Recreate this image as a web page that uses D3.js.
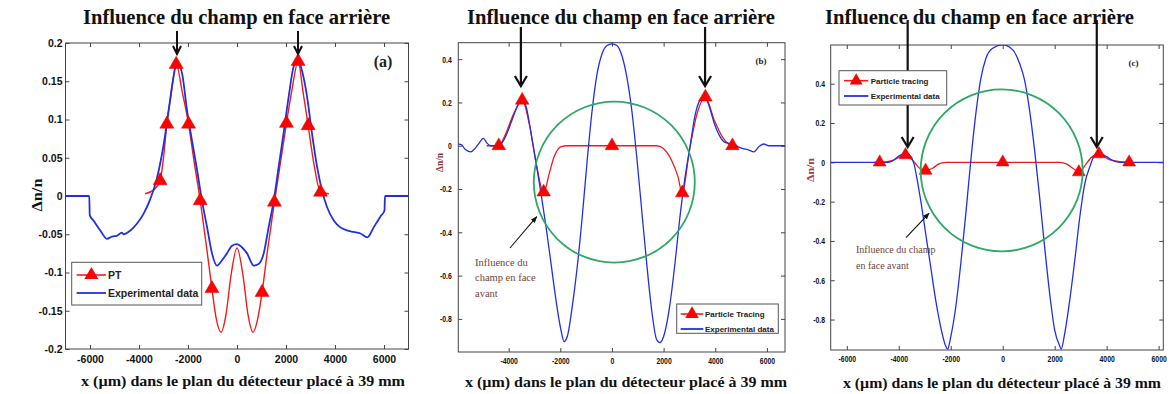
<!DOCTYPE html>
<html><head><meta charset="utf-8">
<script src="https://cdn.jsdelivr.net/npm/d3@7"></script>
<style>body{margin:0;background:#fff;} svg{display:block;}</style>
</head><body>
<svg id="chart" width="1173" height="394"></svg>
<script>
// ---------------- data ----------------
const titleText = "Influence du champ en face arrière";
const xLabelText = "x (µm) dans le plan du détecteur placé à 39 mm";
const yLabelText = "Δn/n";

// panel (a)
const aXTicks = [-6000,-4000,-2000,0,2000,4000,6000];
const aYTicks = [-0.2,-0.15,-0.1,-0.05,0,0.05,0.1,0.15,0.2];
const aLegend = ["PT","Experimental data"];
const aExpX = [-7000,-6030,-6010,-5860,-5580,-5310,-5100,-4900,-4700,-4630,-4350,-4080,-3810,-3540,-3270,-2990,-2790,-2590,-2450,-2240,-2040,-1840,-1630,-1430,-1220,-1020,-820,-610,-410,-200,0,200,410,680,880,1090,1290,1500,1700,1900,2110,2310,2490,2650,2860,3060,3270,3470,3670,3950,4220,4490,4760,5040,5320,5580,5850,6020,6040,7000];
const aExpY = [0,0,-0.025,-0.032,-0.045,-0.056,-0.053,-0.052,-0.048,-0.050,-0.045,-0.036,-0.023,-0.004,0.023,0.068,0.112,0.156,0.175,0.160,0.112,0.073,0.034,-0.006,-0.041,-0.075,-0.091,-0.084,-0.075,-0.065,-0.063,-0.067,-0.075,-0.091,-0.089,-0.075,-0.041,-0.006,0.038,0.082,0.130,0.169,0.178,0.164,0.130,0.082,0.038,0.007,-0.014,-0.032,-0.041,-0.045,-0.047,-0.049,-0.054,-0.041,-0.027,-0.019,0,0];
const aPtX = [-3750,-3400,-3137,-3000,-2864,-2680,-2482,-2230,-1977,-1750,-1500,-1250,-1023,-850,-650,-450,-250,0,250,450,650,850,1023,1250,1527,1780,2018,2250,2495,2700,2905,3150,3410,3750];
const aPtY = [0.003,0.008,0.020,0.050,0.094,0.135,0.172,0.135,0.094,0.045,-0.006,-0.065,-0.121,-0.160,-0.178,-0.155,-0.105,-0.068,-0.105,-0.155,-0.178,-0.160,-0.126,-0.070,-0.008,0.045,0.095,0.140,0.176,0.135,0.092,0.040,0.005,0.003];
const aMkX = [-3137,-2864,-2482,-1977,-1500,-1023,1023,1527,2018,2495,2905,3410];
const aMkY = [0.020,0.094,0.172,0.094,-0.006,-0.121,-0.126,-0.008,0.095,0.176,0.092,0.005];

// panel (b)
const bXTicks = [-4000,-2000,0,2000,4000,6000];
const bYTicks = [-0.8,-0.6,-0.4,-0.2,0,0.2,0.4];
const bLegend = ["Particle Tracing","Experimental data"];
const bExpX = [-5950,-5820,-5700,-5460,-5300,-5150,-4984,-4830,-4700,-4470,-4281,-4090,-3898,-3706,-3476,-3323,-3131,-2939,-2748,-2556,-2364,-2172,-1981,-1853,-1725,-1534,-1342,-1150,-958,-767,-575,-383,-192,0,192,383,575,767,958,1150,1342,1534,1725,1853,2045,2236,2428,2620,2812,3030,3200,3380,3578,3770,3962,4153,4345,4537,4792,5048,5304,5495,5687,5879,6070,6700];
const bExpY = [0.008,0.004,-0.015,-0.028,-0.012,0.011,0.034,0.011,0,0,0.010,0.050,0.110,0.170,0.218,0.180,0.057,-0.081,-0.220,-0.373,-0.540,-0.710,-0.848,-0.905,-0.879,-0.740,-0.557,-0.327,-0.066,0.164,0.333,0.425,0.463,0.471,0.463,0.417,0.318,0.164,-0.050,-0.296,-0.540,-0.756,-0.894,-0.910,-0.863,-0.740,-0.557,-0.342,-0.160,0.000,0.130,0.205,0.228,0.180,0.103,0.049,0.018,0.011,0,-0.012,-0.020,-0.028,-0.005,0.008,0,0];
const bPtX = [-4856,-4383,-4100,-3800,-3476,-3200,-2950,-2645,-2428,-2236,-1981,-1725,1725,1981,2300,2556,2722,3000,3300,3617,3962,4281,4665,4856];
const bPtY = [0,0,0.060,0.150,0.210,0.100,-0.070,-0.217,-0.128,-0.050,-0.005,0,0,-0.012,-0.066,-0.143,-0.220,-0.020,0.150,0.225,0.118,0.040,0,0];
const bMkX = [-4383,-3476,-2645,0,2722,3617,4665];
const bMkY = [0,0.210,-0.214,0,-0.218,0.225,0];

// panel (c)
const cXTicks = [-6000,-4000,-2000,0,2000,4000,6000];
const cYTicks = [-0.8,-0.6,-0.4,-0.2,0,0.2,0.4];
const cLegend = ["Particle tracing","Experimental data"];
const cExpX = [-6620,-4400,-4194,-4000,-3742,-3548,-3419,-3290,-3161,-2968,-2774,-2581,-2387,-2194,-2120,-2000,-1806,-1613,-1419,-1226,-1032,-839,-645,-387,0,387,645,839,1032,1226,1419,1613,1806,2000,2194,2250,2387,2581,2774,2968,3161,3355,3548,3742,4000,4258,4516,6180];
const cExpY = [0,0,0.012,0.032,0.046,0.032,-0.005,-0.090,-0.190,-0.360,-0.530,-0.700,-0.837,-0.935,-0.950,-0.888,-0.735,-0.515,-0.260,0.012,0.250,0.428,0.530,0.580,0.598,0.572,0.504,0.420,0.267,0.063,-0.175,-0.430,-0.667,-0.854,-0.935,-0.950,-0.870,-0.700,-0.497,-0.277,-0.107,-0.022,0.037,0.046,0.029,0.007,0,0];
const cPtX = [-4968,-4735,-4258,-3742,-3400,-3200,-2968,-2700,-2450,-2194,2194,2450,2700,2929,3226,3450,3703,4129,4865,5032];
const cPtY = [0,0,0.008,0.037,0.000,-0.030,-0.042,-0.030,-0.008,0,0,-0.008,-0.030,-0.050,-0.005,0.030,0.042,0.012,0,0];
const cMkX = [-4735,-3742,-2968,0,2929,3703,4865];
const cMkY = [0,0.037,-0.042,0,-0.050,0.042,0];

const annotText = ["Influence du","champ en face","avant"];
const annotTextC = ["Influence du champ","en face avant"];

// ---------------- layout ----------------
const RED = "#ee1c1c", BLUE = "#2030e0", GREEN = "#2fa866", AX = "#444";
const panels = [
 {id:"a", left:65.5,right:408.5,top:43,bottom:349, xDom:[-7000,7000], yDom:[-0.2,0.2],
  xTicks:aXTicks,yTicks:aYTicks, exp:[aExpX,aExpY], pt:[aPtX,aPtY], mk:[aMkX,aMkY], legendText:aLegend,
  tickFont:10.5, tickScale:1, xPad:7, yPad:3, tickLen:4, mkSize:85, expW:1.8, ptW:1.4,
  title:{x:236.5,y:23.5,w:307}, xlab:{x:243,y:386,w:324}, ylab:{x:42,y:195,size:14,color:"#111",len:33},
  tag:{text:"(a)",x:383,y:67,size:16},
  legend:{x:71.7,y:262.3,w:130,h:42.7,l0:76.7,l1:106,tx:108,r1:275,r2:293,size:10.5,mk:85},
  arrows:{xs:[-2449,2490],y0:31,y1:54,hw:4,hh:8,w:2},
  circle:null, note:null},
 {id:"b", left:458.3,right:785,top:42.7,bottom:352, xDom:[-5950,6700], yDom:[-0.953,0.476],
  xTicks:bXTicks,yTicks:bYTicks, exp:[bExpX,bExpY], pt:[bPtX,bPtY], mk:[bMkX,bMkY], legendText:bLegend,
  tickFont:9, tickScale:0.76, xPad:5.5, yPad:6.5, tickLen:4, mkSize:80, expW:1.3, ptW:1.3,
  title:{x:621,y:23.5,w:308}, xlab:{x:626,y:387,w:322}, ylab:{x:443,y:162.5,size:9.5,color:"#8a3a3a",len:19},
  tag:{text:"(b)",x:761,y:64,size:9},
  legend:{x:676.7,y:304,w:101.6,h:29.3,l0:680.7,l1:703.3,tx:705,r1:314,r2:329,size:8,mk:80},
  arrows:{xs:[-3527,3605],y0:27,y1:86,hw:6,hh:10,w:2.2},
  circle:{cx:90,cy:-0.168,r:80.5},
  note:{lines:annotText,x:475,y:265.5,dy:15.5,size:10.5,ax0:510,ay0:248,ax1:536.7,ay1:216.7}},
 {id:"c", left:830.7,right:1163.3,top:45,bottom:350, xDom:[-6620,6180], yDom:[-0.955,0.597],
  xTicks:cXTicks,yTicks:cYTicks, exp:[cExpX,cExpY], pt:[cPtX,cPtY], mk:[cMkX,cMkY], legendText:cLegend,
  tickFont:9, tickScale:0.76, xPad:5.5, yPad:5.7, tickLen:4, mkSize:72, expW:1.3, ptW:1.3,
  title:{x:979.5,y:23.5,w:309}, xlab:{x:1002,y:388,w:318}, ylab:{x:814,y:170,size:11,color:"#a04040",len:24},
  tag:{text:"(c)",x:1133.5,y:66,size:9},
  legend:{x:839,y:70.7,w:107.7,h:34.3,l0:844,l1:868.3,tx:870.7,r1:80.7,r2:96,size:8,mk:72},
  arrows:{xs:[-3658,3620],y0:20,y1:147,hw:6,hh:10,w:2.2},
  circle:{cx:-40,cy:-0.041,r:81},
  note:{lines:annotTextC,x:856,y:252.5,dy:16,size:10,ax0:906,ay0:237.7,ax1:929,ay1:213.3}}
];

const svg = d3.select("#chart");
const defs = svg.append("defs");
defs.append("marker").attr("id","headS").attr("viewBox","0 0 10 10").attr("refX",9).attr("refY",5)
  .attr("markerWidth",6).attr("markerHeight",6).attr("orient","auto")
  .append("path").attr("d","M0,1 L10,5 L0,9 z").attr("fill","#111");

panels.forEach(p => {
  const g = svg.append("g");
  const x = d3.scaleLinear().domain(p.xDom).range([p.left,p.right]);
  const y = d3.scaleLinear().domain(p.yDom).range([p.bottom,p.top]);
  defs.append("clipPath").attr("id","clip"+p.id).append("rect")
    .attr("x",p.left).attr("y",p.top).attr("width",p.right-p.left).attr("height",p.bottom-p.top);

  // axes (inward ticks on all sides)
  const fmt = d => String(+d.toFixed(2));
  const styleAxis = (sel) => { sel.select(".domain").remove(); sel.selectAll("line").attr("stroke",AX); };
  const gx = g.append("g").attr("transform",`translate(0,${p.bottom})`)
    .call(d3.axisBottom(x).tickValues(p.xTicks).tickSizeInner(-p.tickLen).tickSizeOuter(0).tickPadding(p.xPad).tickFormat(fmt));
  styleAxis(gx);
  const gy = g.append("g").attr("transform",`translate(${p.left},0)`)
    .call(d3.axisLeft(y).tickValues(p.yTicks).tickSizeInner(-p.tickLen).tickSizeOuter(0).tickPadding(p.yPad).tickFormat(fmt));
  styleAxis(gy);
  g.append("g").attr("transform",`translate(0,${p.top})`)
    .call(d3.axisTop(x).tickValues(p.xTicks).tickSizeInner(-p.tickLen).tickSizeOuter(0).tickFormat("")).call(styleAxis);
  g.append("g").attr("transform",`translate(${p.right},0)`)
    .call(d3.axisRight(y).tickValues(p.yTicks).tickSizeInner(-p.tickLen).tickSizeOuter(0).tickFormat("")).call(styleAxis);
  [gx,gy].forEach(a => a.selectAll("text")
    .attr("font-family","'Liberation Sans', Arial, sans-serif").attr("font-weight","bold")
    .attr("font-size",p.tickFont).attr("fill","#111"));
  if (p.tickScale !== 1) {
    gx.selectAll("text").attr("transform",`scale(${p.tickScale},1)`);
    gy.selectAll("text").attr("transform",`scale(${p.tickScale},1)`).attr("x",-p.yPad/p.tickScale);
  }
  g.append("rect").attr("x",p.left).attr("y",p.top).attr("width",p.right-p.left).attr("height",p.bottom-p.top)
    .attr("fill","none").attr("stroke",AX).attr("stroke-width",1);

  // curves
  const line = d3.line().x(d=>x(d[0])).y(d=>y(d[1])).curve(d3.curveMonotoneX);
  const plot = g.append("g").attr("clip-path",`url(#clip${p.id})`);
  plot.append("path").attr("d",line(d3.zip(p.pt[0],p.pt[1]))).attr("fill","none").attr("stroke",RED).attr("stroke-width",p.ptW);
  plot.append("path").attr("d",line(d3.zip(p.exp[0],p.exp[1]))).attr("fill","none").attr("stroke",BLUE).attr("stroke-width",p.expW).attr("stroke-linejoin","round");
  const tri = d3.symbol().type(d3.symbolTriangle);
  g.selectAll(".mk"+p.id).data(d3.zip(p.mk[0],p.mk[1])).join("path")
    .attr("transform",d=>`translate(${x(d[0])},${y(d[1])})`)
    .attr("d",tri.size(p.mkSize)()).attr("fill","#ff0000").attr("stroke","#e00000").attr("stroke-width",0.5);

  // green circle
  if (p.circle) {
    g.append("circle").attr("cx",x(p.circle.cx)).attr("cy",y(p.circle.cy)).attr("r",p.circle.r)
      .attr("fill","none").attr("stroke",GREEN).attr("stroke-width",1.8);
  }

  // title
  g.append("text").attr("x",p.title.x).attr("y",p.title.y).attr("text-anchor","middle")
    .attr("font-family","'Liberation Serif','Times New Roman',serif").attr("font-weight","bold").attr("font-size",20)
    .attr("textLength",p.title.w).attr("lengthAdjust","spacingAndGlyphs").attr("fill","#111").text(titleText);
  // x label
  g.append("text").attr("x",p.xlab.x).attr("y",p.xlab.y).attr("text-anchor","middle")
    .attr("font-family","'Liberation Serif','Times New Roman',serif").attr("font-weight","bold").attr("font-size",15.5)
    .attr("textLength",p.xlab.w).attr("lengthAdjust","spacingAndGlyphs").attr("fill","#111").text(xLabelText);
  // y label
  g.append("text").attr("transform",`translate(${p.ylab.x},${p.ylab.y}) rotate(-90)`).attr("text-anchor","middle")
    .attr("font-family","'Liberation Serif','Times New Roman',serif").attr("font-weight","bold").attr("font-size",p.ylab.size)
    .attr("textLength",p.ylab.len).attr("lengthAdjust","spacingAndGlyphs").attr("fill",p.ylab.color).text(yLabelText);
  // tag
  g.append("text").attr("x",p.tag.x).attr("y",p.tag.y).attr("text-anchor","middle")
    .attr("font-family","'Liberation Serif','Times New Roman',serif").attr("font-weight","bold").attr("font-size",p.tag.size)
    .attr("fill","#222").text(p.tag.text);

  // big arrows
  p.arrows.xs.forEach(ax => {
    const px = x(ax), a = p.arrows;
    g.append("line").attr("x1",px).attr("x2",px).attr("y1",a.y0).attr("y2",a.y1-1).attr("stroke","#111").attr("stroke-width",a.w);
    g.append("path").attr("d",`M${px-a.hw},${a.y1-a.hh} L${px},${a.y1} L${px+a.hw},${a.y1-a.hh}`)
      .attr("fill","none").attr("stroke","#111").attr("stroke-width",a.w).attr("stroke-linejoin","miter");
  });

  // annotation
  if (p.note) {
    const n = p.note;
    g.append("line").attr("x1",n.ax0).attr("y1",n.ay0).attr("x2",n.ax1).attr("y2",n.ay1)
      .attr("stroke","#111").attr("stroke-width",1.1).attr("marker-end","url(#headS)");
    g.selectAll(".note"+p.id).data(n.lines).join("text").attr("x",n.x).attr("y",(d,i)=>n.y+i*n.dy)
      .attr("font-family","'Liberation Serif','Times New Roman',serif").attr("font-size",n.size)
      .attr("fill","#6e4538").text(d=>d);
  }

  // legend
  const L = p.legend;
  g.append("rect").attr("x",L.x).attr("y",L.y).attr("width",L.w).attr("height",L.h)
    .attr("fill","#fff").attr("stroke","#555").attr("stroke-width",1);
  g.append("line").attr("x1",L.l0).attr("x2",L.l1).attr("y1",L.r1).attr("y2",L.r1).attr("stroke",RED).attr("stroke-width",1.6);
  g.append("path").attr("transform",`translate(${(L.l0+L.l1)/2},${L.r1})`).attr("d",tri.size(L.mk)()).attr("fill","#ff0000");
  g.append("line").attr("x1",L.l0).attr("x2",L.l1).attr("y1",L.r2).attr("y2",L.r2).attr("stroke",BLUE).attr("stroke-width",1.8);
  [L.r1,L.r2].forEach((ry,i) => g.append("text").attr("x",L.tx).attr("y",ry).attr("dy","0.35em")
    .attr("font-family","'Liberation Sans', Arial, sans-serif").attr("font-weight","bold").attr("font-size",L.size)
    .attr("fill","#222").text(p.legendText[i]));
});
</script>
</body></html>
